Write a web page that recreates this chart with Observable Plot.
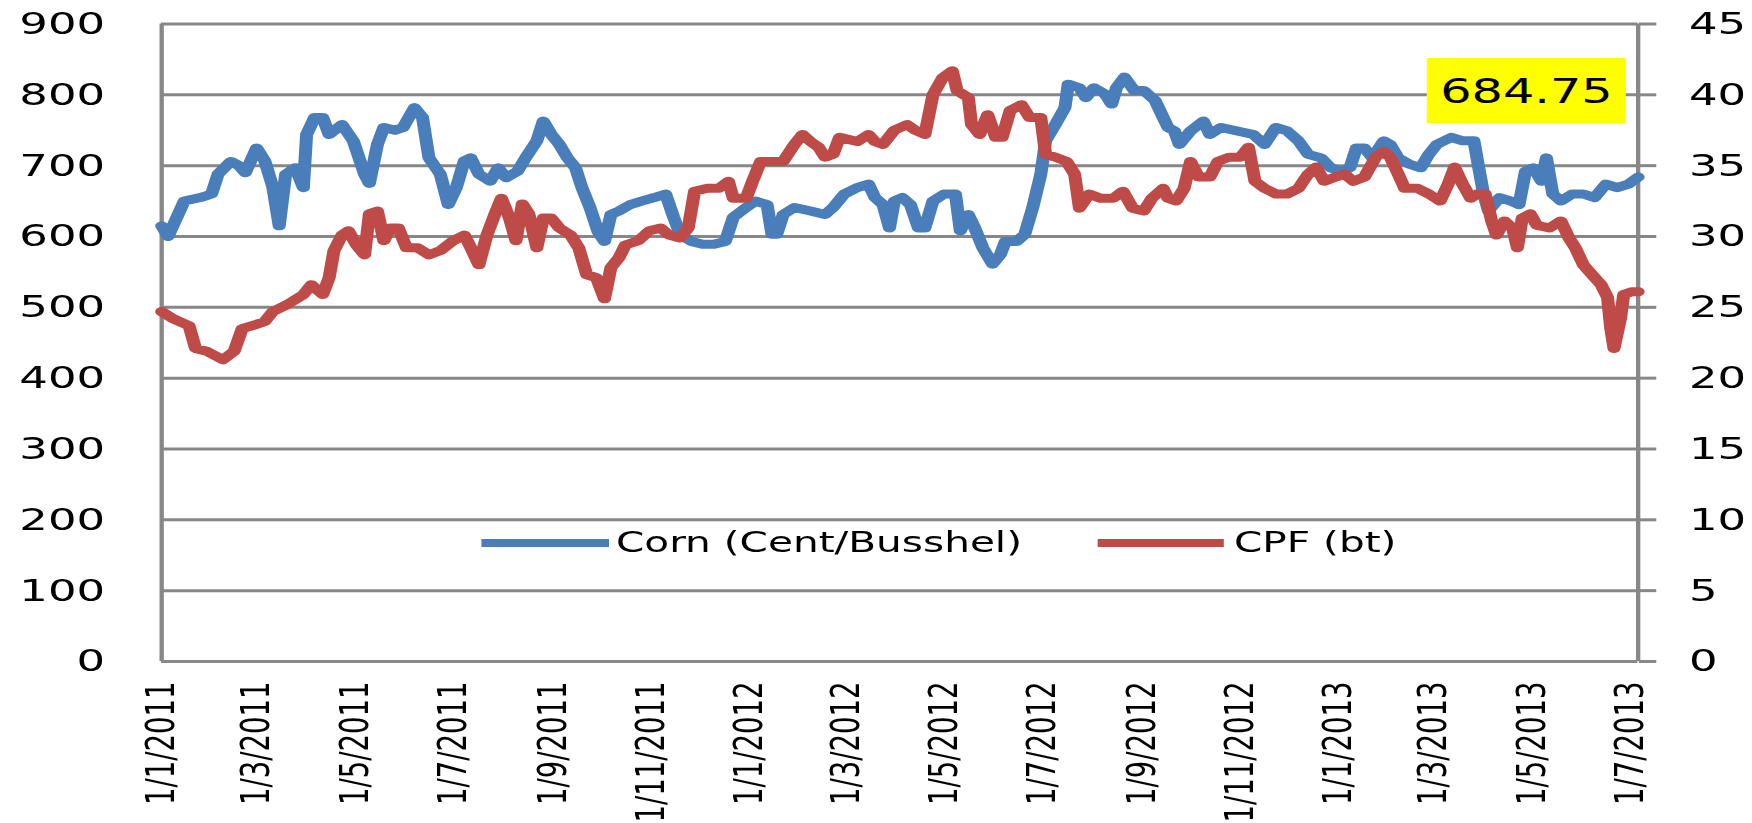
<!DOCTYPE html>
<html>
<head>
<meta charset="utf-8">
<script src="https://cdn.jsdelivr.net/npm/d3@7"></script>
<script src="https://cdn.jsdelivr.net/npm/@observablehq/plot@0.6"></script>
<style>
  html, body { margin: 0; padding: 0; background: #fff; }
  #wrap { position: relative; width: 1208.28px; height: 823px; transform: scaleX(1.45); transform-origin: 0 0; }
  .lg { position: absolute; font-family: "DejaVu Sans", sans-serif; font-size: 28px; color: #000; white-space: nowrap; line-height: 1; transform: translateY(-50%); }
  .sw { position: absolute; height: 8px; transform: translateY(-50%); }
  #note { position: absolute; background: #ffff00; font-family: "DejaVu Sans", sans-serif; font-size: 34px; color: #000; display: flex; align-items: center; justify-content: center; }
</style>
</head>
<body>
<div id="wrap"></div>
<script>
// ---- data ----
const cornDates = ["2011-01-01","2011-01-05","2011-01-15","2011-01-25","2011-02-01","2011-02-05","2011-02-13","2011-02-18","2011-02-22","2011-03-01",
"2011-03-06","2011-03-11","2011-03-15","2011-03-19","2011-03-25","2011-03-30","2011-04-01","2011-04-06","2011-04-11","2011-04-15",
"2011-04-23","2011-04-30","2011-05-07","2011-05-10","2011-05-15","2011-05-19","2011-05-26","2011-05-31","2011-06-07","2011-06-12",
"2011-06-16","2011-06-23","2011-06-28","2011-07-03","2011-07-08","2011-07-12","2011-07-17","2011-07-24","2011-07-29","2011-08-03",
"2011-08-10","2011-08-15","2011-08-22","2011-08-26","2011-08-31","2011-09-05","2011-09-10","2011-09-15","2011-09-19","2011-09-24",
"2011-09-29","2011-10-03","2011-10-07","2011-10-12","2011-10-19","2011-10-26","2011-11-03","2011-11-10","2011-11-15","2011-11-19",
"2011-11-26","2011-12-03","2011-12-10","2011-12-17","2011-12-22","2011-12-30","2012-01-05","2012-01-12","2012-01-15","2012-01-18",
"2012-01-22","2012-01-29","2012-02-08","2012-02-17","2012-02-22","2012-02-29","2012-03-08","2012-03-15","2012-03-19","2012-03-24",
"2012-03-28","2012-03-31","2012-04-05","2012-04-10","2012-04-15","2012-04-19","2012-04-24","2012-05-01","2012-05-08","2012-05-11",
"2012-05-16","2012-05-20","2012-05-25","2012-05-31","2012-06-05","2012-06-08","2012-06-15","2012-06-20","2012-06-25","2012-06-30",
"2012-07-03","2012-07-09","2012-07-15","2012-07-17","2012-07-24","2012-07-28","2012-08-02","2012-08-09","2012-08-13","2012-08-16",
"2012-08-21","2012-08-27","2012-09-02","2012-09-09","2012-09-14","2012-09-17","2012-09-21","2012-09-24","2012-10-01","2012-10-09",
"2012-10-13","2012-10-20","2012-10-30","2012-11-09","2012-11-16","2012-11-23","2012-11-30","2012-12-07","2012-12-13","2012-12-21",
"2012-12-27","2013-01-03","2013-01-08","2013-01-12","2013-01-17","2013-01-22","2013-01-29","2013-02-02","2013-02-07","2013-02-14",
"2013-02-21","2013-02-26","2013-03-03","2013-03-12","2013-03-19","2013-03-26","2013-03-29","2013-04-01","2013-04-04","2013-04-11",
"2013-04-18","2013-04-23","2013-04-27","2013-05-02","2013-05-07","2013-05-10","2013-05-14","2013-05-19","2013-05-26","2013-06-02",
"2013-06-09","2013-06-16","2013-06-23","2013-06-30","2013-07-06"];
const cornValues = [615,600,650,655,660,688,706,700,690,725,
707,670,615,688,697,669,744,768,768,744,
758,735,688,675,730,754,750,754,782,768,
711,688,645,669,707,711,688,678,697,683,
692,711,735,763,744,730,711,697,669,641,
607,593,631,636,645,650,655,660,627,603,
593,589,589,593,627,641,650,645,603,603,
631,641,636,631,641,660,669,674,655,645,
612,650,655,645,612,612,650,660,660,608,
631,612,584,561,575,593,593,603,641,688,
735,758,782,815,810,796,810,801,787,810,
825,806,806,792,768,754,749,730,749,763,
744,754,749,744,730,754,749,735,716,711,
697,692,697,725,725,711,735,730,711,702,
697,716,730,740,735,735,697,660,636,655,
650,645,692,697,678,711,660,650,660,660,
655,674,669,674,684];

const cpfDates = ["2011-01-01","2011-01-08","2011-01-18","2011-01-22","2011-01-29","2011-02-08","2011-02-15","2011-02-20","2011-03-01","2011-03-06",
"2011-03-11","2011-03-20","2011-03-30","2011-04-04","2011-04-11","2011-04-15","2011-04-18","2011-04-23","2011-04-27","2011-05-02",
"2011-05-07","2011-05-10","2011-05-15","2011-05-19","2011-05-23","2011-05-28","2011-06-02","2011-06-09","2011-06-16","2011-06-23",
"2011-07-01","2011-07-08","2011-07-12","2011-07-17","2011-07-22","2011-07-27","2011-07-31","2011-08-05","2011-08-09","2011-08-13",
"2011-08-17","2011-08-22","2011-08-26","2011-08-31","2011-09-05","2011-09-12","2011-09-17","2011-09-22","2011-09-28","2011-10-03",
"2011-10-07","2011-10-12","2011-10-16","2011-10-24","2011-10-31","2011-11-07","2011-11-12","2011-11-19","2011-11-24","2011-11-28",
"2011-12-06","2011-12-13","2011-12-19","2011-12-22","2011-12-30","2012-01-03","2012-01-08","2012-01-15","2012-01-22","2012-01-29",
"2012-02-03","2012-02-08","2012-02-13","2012-02-17","2012-02-22","2012-02-26","2012-03-08","2012-03-15","2012-03-19","2012-03-24",
"2012-03-31","2012-04-08","2012-04-13","2012-04-19","2012-04-24","2012-04-30","2012-05-06","2012-05-09","2012-05-16","2012-05-18",
"2012-05-23","2012-05-28","2012-06-02","2012-06-06","2012-06-11","2012-06-18","2012-06-23","2012-06-30","2012-07-03","2012-07-09",
"2012-07-16","2012-07-21","2012-07-24","2012-07-30","2012-08-06","2012-08-14","2012-08-20","2012-08-26","2012-09-02","2012-09-07",
"2012-09-14","2012-09-17","2012-09-22","2012-09-27","2012-10-01","2012-10-06","2012-10-13","2012-10-18","2012-10-25","2012-11-01",
"2012-11-06","2012-11-10","2012-11-16","2012-11-23","2012-11-30","2012-12-07","2012-12-13","2012-12-18","2012-12-23","2012-12-30",
"2013-01-05","2013-01-10","2013-01-17","2013-01-24","2013-01-29","2013-02-02","2013-02-07","2013-02-11","2013-02-19","2013-02-26",
"2013-03-05","2013-03-10","2013-03-14","2013-03-19","2013-03-24","2013-03-28","2013-04-02","2013-04-06","2013-04-09","2013-04-14",
"2013-04-19","2013-04-22","2013-04-25","2013-04-30","2013-05-04","2013-05-12","2013-05-19","2013-05-24","2013-05-28","2013-06-02",
"2013-06-09","2013-06-13","2013-06-17","2013-06-19","2013-06-21","2013-06-25","2013-06-27","2013-07-02","2013-07-06"];
const cpfValues = [24.7,24.2,23.7,22.1,21.9,21.3,21.9,23.5,23.8,24.0,
24.7,25.2,25.9,26.6,25.9,27.1,29.0,30.1,30.4,29.4,
28.7,31.6,31.8,29.7,30.6,30.6,29.2,29.2,28.7,29.0,
29.7,30.1,29.2,28.0,30.1,31.6,32.7,31.3,29.7,32.3,
31.6,29.2,31.3,31.3,30.6,30.1,29.2,27.3,27.1,25.6,
27.8,28.5,29.4,29.7,30.4,30.6,30.1,29.9,30.6,33.2,
33.4,33.4,33.9,32.7,32.7,33.9,35.3,35.3,35.3,36.5,
37.2,36.7,36.3,35.6,35.8,37.0,36.7,37.2,36.7,36.5,
37.5,37.9,37.5,37.2,40.0,41.2,41.7,40.3,39.8,37.9,
37.2,38.6,37.0,37.0,38.9,39.3,38.4,38.4,35.8,35.6,
35.3,34.4,32.0,33.0,32.7,32.7,33.2,32.0,31.8,32.7,
33.4,32.7,32.5,33.4,35.3,34.2,34.2,35.3,35.6,35.6,
36.3,33.9,33.4,33.0,33.0,33.4,34.4,34.9,33.9,34.2,
34.4,33.9,34.2,35.6,36.0,35.6,34.4,33.4,33.4,33.0,
32.5,33.7,34.9,33.7,32.7,33.0,33.0,31.1,30.1,31.1,
30.6,29.2,31.3,31.6,30.8,30.6,31.1,29.9,29.2,28.0,
27.1,26.6,25.7,23.5,22.1,24.2,25.9,26.1,26.1];

const leftTicks = [0, 100, 200, 300, 400, 500, 600, 700, 800, 900];
const rightTicks = [0, 5, 10, 15, 20, 25, 30, 35, 40, 45];
const xTickDates = ["2011-01-01","2011-03-01","2011-05-01","2011-07-01","2011-09-01","2011-11-01",
  "2012-01-01","2012-03-01","2012-05-01","2012-07-01","2012-09-01","2012-11-01",
  "2013-01-01","2013-03-01","2013-05-01","2013-07-01"];
const xDomainDates = ["2011-01-01", "2013-07-06"];
const seriesNames = ["Corn (Cent/Busshel)", "CPF (bt)"];
const seriesColors = ["#4a7ebb", "#be4b48"];
const lastCornLabel = "684.75";

// ---- build ----
const ratio = 900 / 45; // right axis 0..45 mapped onto left 0..900
const corn = cornDates.map((d, i) => ({date: new Date(d), value: cornValues[i]}));
const cpf = cpfDates.map((d, i) => ({date: new Date(d), value: cpfValues[i]}));
const xDomain = xDomainDates.map(d => new Date(d));
const xTicks = xTickDates.map(d => new Date(d));
const fmt = d3.utcFormat("%-d/%-m/%Y");
const grid = "#878787";

const S = 1.45;
const W = 1752 / S;

const chart = Plot.plot({
  width: W,
  height: 823,
  marginLeft: 111,
  marginRight: 79,
  marginTop: 23.5,
  marginBottom: 162,
  style: {fontFamily: '"DejaVu Sans", sans-serif', fontSize: "31px", color: "#000", background: "transparent", overflow: "visible"},
  x: {type: "utc", domain: xDomain},
  y: {domain: [0, 900]},
  marks: [
    Plot.ruleY(leftTicks, {stroke: grid, strokeWidth: 3}),
    Plot.ruleX(xDomain, {stroke: grid, strokeWidth: 3}),
    Plot.axisY({anchor: "left", ticks: leftTicks, tickSize: 0, tickPadding: 39, label: null}),
    Plot.axisY({anchor: "right", ticks: rightTicks.map(v => v * ratio), tickFormat: d => d / ratio,
      tickSize: 12, tickPadding: 23, stroke: grid, strokeWidth: 3, strokeOpacity: 1, label: null}),
    Plot.axisX({ticks: xTicks, tickFormat: fmt, tickRotate: -90, tickSize: 0, tickPadding: 20, fontSize: 27.5, label: null}),
    Plot.line(corn, {x: "date", y: "value", stroke: seriesColors[0], strokeWidth: 9}),
    Plot.line(cpf, {x: "date", y: d => d.value * ratio, stroke: seriesColors[1], strokeWidth: 9})
  ]
});

const wrap = document.getElementById("wrap");
wrap.appendChild(chart);

// legend (inside plot area)
const legendY = 543;
const legendItems = [
  {swLeft: 332.4, swWidth: 87.6, textLeft: 424.8},
  {swLeft: 757.2, swWidth: 86.9, textLeft: 851}
];
legendItems.forEach((it, i) => {
  const sw = document.createElement("div");
  sw.className = "sw";
  sw.style.left = it.swLeft + "px";
  sw.style.width = it.swWidth + "px";
  sw.style.top = legendY + "px";
  sw.style.background = seriesColors[i];
  wrap.appendChild(sw);
  const t = document.createElement("div");
  t.className = "lg";
  t.style.left = it.textLeft + "px";
  t.style.top = legendY + "px";
  t.textContent = seriesNames[i];
  wrap.appendChild(t);
});

// yellow value callout
const note = document.createElement("div");
note.id = "note";
note.style.left = "984.1px";
note.style.top = "58px";
note.style.width = "137.2px";
note.style.height = "65px";
note.textContent = lastCornLabel;
wrap.appendChild(note);
</script>
</body>
</html>
